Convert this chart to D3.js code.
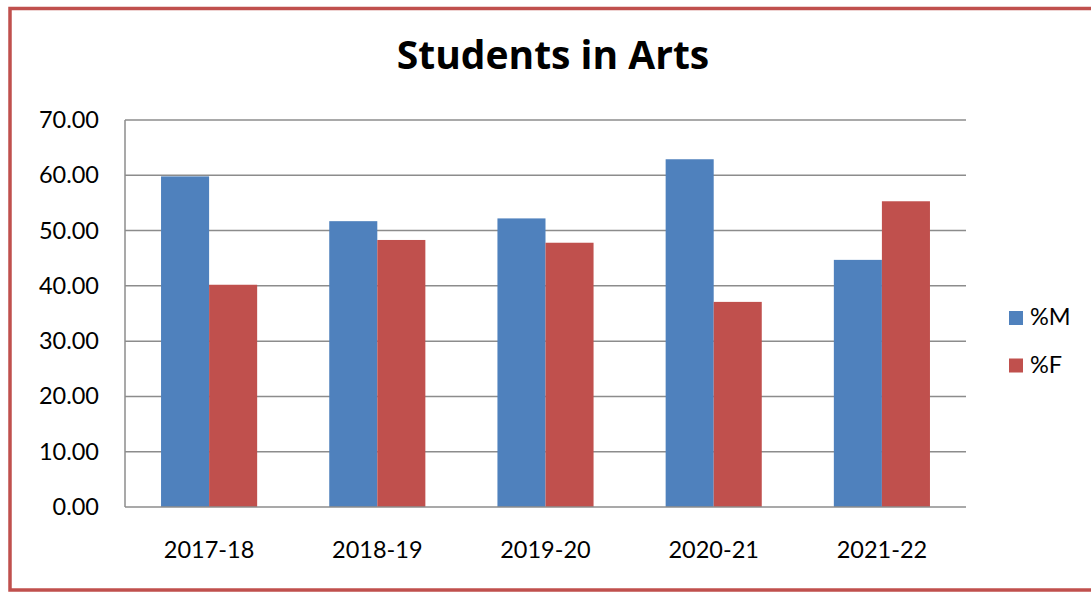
<!DOCTYPE html>
<html>
<head>
<meta charset="UTF-8">
<script src="https://d3js.org/d3.v7.min.js"></script>
<style>
  html, body { margin: 0; padding: 0; background: #fff; }
  svg { display: block; font-family: "Lato", "Open Sans", sans-serif; }
</style>
</head>
<body>
<svg width="1091" height="592"></svg>
<script>
// data
var years = ["2017-18", "2018-19", "2019-20", "2020-21", "2021-22"];
var male = [59.8, 51.7, 52.2, 62.9, 44.7];
var female = [40.2, 48.3, 47.8, 37.1, 55.3];
var seriesNames = ["%M", "%F"];
var colors = ["#4f81bd", "#c0504d"];
var yTicks = [0, 10, 20, 30, 40, 50, 60, 70];

var svg = d3.select("svg");
var plot = { left: 125, top: 120, right: 966, bottom: 507 };

// outer frame
svg.append("rect")
  .attr("x", 10).attr("y", 8.5)
  .attr("width", 1100).attr("height", 581.5)
  .attr("fill", "none")
  .attr("stroke", "#c0504d")
  .attr("stroke-width", 3.5);

svg.append("text")
  .attr("x", 553).attr("y", 69)
  .attr("text-anchor", "middle")
  .style("font-family", "'Open Sans', sans-serif")
  .style("font-size", "39px")
  .style("font-weight", "bold")
  .text("Students in Arts");

var x0 = d3.scaleBand().domain(years).range([plot.left, plot.right]);
var x1 = d3.scaleBand().domain(seriesNames)
  .range([0, x0.bandwidth()])
  .paddingInner(0)
  .paddingOuter(0.75);
var y = d3.scaleLinear().domain([0, 70]).range([plot.bottom, plot.top]);

// gridlines
svg.append("g").selectAll("line")
  .data(yTicks.slice(1))
  .enter().append("line")
  .attr("x1", plot.left).attr("x2", plot.right)
  .attr("y1", function (d) { return y(d); })
  .attr("y2", function (d) { return y(d); })
  .attr("stroke", "#8c8c8c")
  .attr("stroke-width", 1.5);

// bars
var rows = years.map(function (yr, i) { return { year: yr, vals: [male[i], female[i]] }; });
svg.append("g").selectAll("g")
  .data(rows)
  .enter().append("g")
  .attr("transform", function (d) { return "translate(" + x0(d.year) + ",0)"; })
  .selectAll("rect")
  .data(function (d) { return d.vals.map(function (v, j) { return { v: v, s: seriesNames[j], c: colors[j] }; }); })
  .enter().append("rect")
  .attr("x", function (d) { return x1(d.s); })
  .attr("width", x1.bandwidth())
  .attr("y", function (d) { return y(d.v); })
  .attr("height", function (d) { return y(0) - y(d.v); })
  .attr("fill", function (d) { return d.c; });

// axis lines
svg.append("line")
  .attr("x1", plot.left).attr("x2", plot.left)
  .attr("y1", plot.top).attr("y2", plot.bottom)
  .attr("stroke", "#8c8c8c").attr("stroke-width", 1.5);
svg.append("line")
  .attr("x1", plot.left).attr("x2", plot.right)
  .attr("y1", plot.bottom).attr("y2", plot.bottom)
  .attr("stroke", "#8c8c8c").attr("stroke-width", 1.5);

// y labels
svg.append("g").selectAll("text")
  .data(yTicks)
  .enter().append("text")
  .attr("x", 99)
  .attr("y", function (d) { return y(d) + 8; })
  .attr("text-anchor", "end")
  .style("font-size", "23.5px")
  .text(function (d) { return d3.format(".2f")(d); });

// x labels
svg.append("g").selectAll("text")
  .data(years)
  .enter().append("text")
  .attr("x", function (d) { return x0(d) + x0.bandwidth() / 2; })
  .attr("y", 558)
  .attr("text-anchor", "middle")
  .style("font-size", "23.5px")
  .text(function (d) { return d; });

// legend
var leg = svg.append("g").selectAll("g")
  .data(seriesNames)
  .enter().append("g")
  .attr("transform", function (d, i) { return "translate(1009," + (311 + i * 47.5) + ")"; });
leg.append("rect")
  .attr("width", 14).attr("height", 14)
  .attr("fill", function (d, i) { return colors[i]; });
leg.append("text")
  .attr("x", 21).attr("y", 14)
  .style("font-size", "23.5px")
  .text(function (d) { return d; });
</script>
</body>
</html>
